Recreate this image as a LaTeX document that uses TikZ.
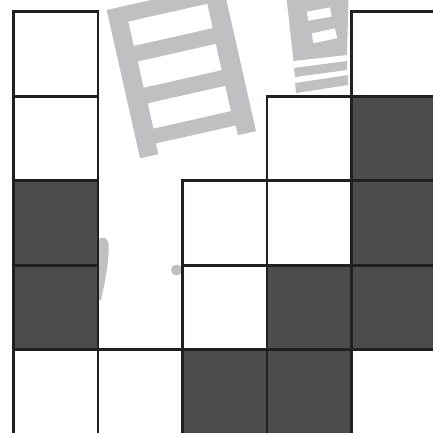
\documentclass[tikz,border=0pt]{standalone}
\definecolor{wm}{RGB}{192,192,194}
\definecolor{dk}{RGB}{77,75,76}
\definecolor{ln}{RGB}{35,31,32}
\begin{document}
\begin{tikzpicture}[x=1pt,y=-1pt,
  cellbox/.style={rectangle, draw=ln, line width=2.6pt, minimum width=84.6pt, minimum height=84.5pt, inner sep=0pt, outer sep=0pt},
  wcell/.style={cellbox, fill=white},
  dcell/.style={cellbox, fill=dk}]
\useasboundingbox (0,0) rectangle (433,432);
\clip (0,0) rectangle (433,432);
% watermark fragments
\begin{scope}[shift={(106.7,10)}, rotate=12.7]
  \fill[wm, even odd rule] (0,0) -- (119,0) -- (119,151) -- (100.5,151) -- (100.5,141) -- (18.7,141) -- (18.7,152) -- (0,152) -- cycle
    (18.5,16) rectangle (99.5,41)
    (19,57) rectangle (99,84)
    (19.5,100) rectangle (99,126);
\end{scope}
\fill[wm, even odd rule] (286.5,-2) -- (348.5,-2) -- (347,55) -- (293.5,61) -- cycle
  (306.7,11.7) -- (330,7.3) -- (331.7,16.7) -- (308.3,20.7) -- cycle
  (311.7,33.3) -- (335,28.3) -- (337.3,38.3) -- (313.3,43.3) -- cycle;
\fill[wm] (294,68) -- (347,61) -- (347,70) -- (295,77) -- cycle;
\fill[wm] (295,83) -- (348,75) -- (348,85) -- (296,93) -- cycle;
\fill[wm] (98,240) .. controls (101,236) and (108,236) .. (108.7,245) .. controls (109,262) and (105,282) .. (101,300) -- (98,300) -- cycle;
\fill[wm] (176.5,270) circle (5.5);
% cells
\node[wcell] (c00) at (55.6,53.95) {};
\node[wcell] (c01) at (55.6,138.45) {};
\node[dcell] (c02) at (55.6,222.95) {};
\node[dcell] (c03) at (55.6,307.45) {};
\node[wcell] (c04) at (55.6,391.95) {};
\node[wcell] (c14) at (140.2,391.95) {};
\node[wcell] (c22) at (224.8,222.95) {};
\node[wcell] (c23) at (224.8,307.45) {};
\node[dcell] (c24) at (224.8,391.95) {};
\node[wcell] (c31) at (309.4,138.45) {};
\node[wcell] (c32) at (309.4,222.95) {};
\node[dcell] (c33) at (309.4,307.45) {};
\node[dcell] (c34) at (309.4,391.95) {};
\node[wcell] (c40) at (394.0,53.95) {};
\node[dcell] (c41) at (394.0,138.45) {};
\node[dcell] (c42) at (394.0,222.95) {};
\node[dcell] (c43) at (394.0,307.45) {};
\end{tikzpicture}
\end{document}
